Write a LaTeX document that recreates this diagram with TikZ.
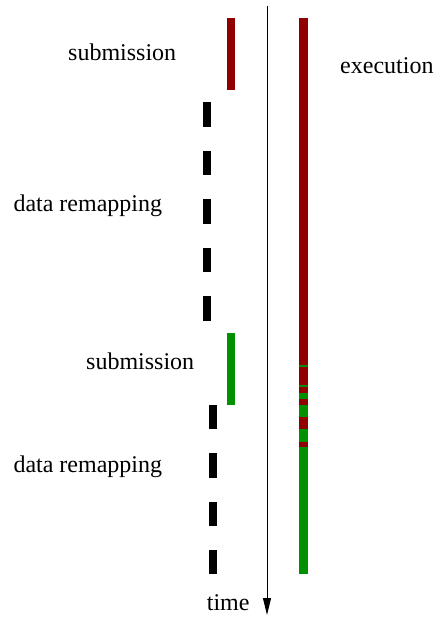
\documentclass[tikz,border=0pt]{standalone}
\usepackage{fontspec}
\setmainfont{Liberation Serif}
\usetikzlibrary{arrows.meta}
\definecolor{darkred}{RGB}{144,0,0}
\definecolor{darkgreen}{RGB}{0,144,0}
\tikzset{
  lbl/.style={anchor=base west,inner sep=0pt,font=\fontsize{24}{28}\selectfont},
  redbar/.style={fill=darkred,draw=none},
  greenbar/.style={fill=darkgreen,draw=none},
  blackbar/.style={fill=black,draw=none}
}
\begin{document}
\begin{tikzpicture}[x=1pt,y=-1pt]
\useasboundingbox (0,0) rectangle (434,617);
% labels
\node[lbl] (sub1) at (68,60.7) {submission};
\node[lbl] (rem1) at (13.3,211.5) {data remapping};
\node[lbl] (sub2) at (86,369.5) {submission};
\node[lbl] (rem2) at (13.3,472) {data remapping};
\node[lbl] (exe) at (340,74) {execution};
\node[lbl] (time) at (206.7,610) {time};
% time axis
\coordinate (atop) at (267,6);
\coordinate (abot) at (267,615);
\draw[line width=1pt,-{Triangle[length=17pt,width=8pt]}] (atop) -- (abot);
% submission bars
\fill[redbar] (227,18) rectangle (235,90);
\fill[greenbar] (227,332.7) rectangle (235,405);
% data remapping bars
\foreach \y in {102.3,151,199.5,247.8,296.2}
  \fill[blackbar] (202.5,\y) rectangle (210.7,\y+24.4);
\foreach \y in {405,453.3,501.7,550}
  \fill[blackbar] (208.5,\y) rectangle (216.7,\y+24.3);
% execution bar
\fill[redbar] (299.3,18) rectangle (307.7,574);
\foreach \a/\b in {365/366.7,385/386.7,393.3/399,405/416.7,429.3/441.7,447.3/574}
  \fill[greenbar] (299.3,\a) rectangle (307.7,\b);
\end{tikzpicture}
\end{document}
